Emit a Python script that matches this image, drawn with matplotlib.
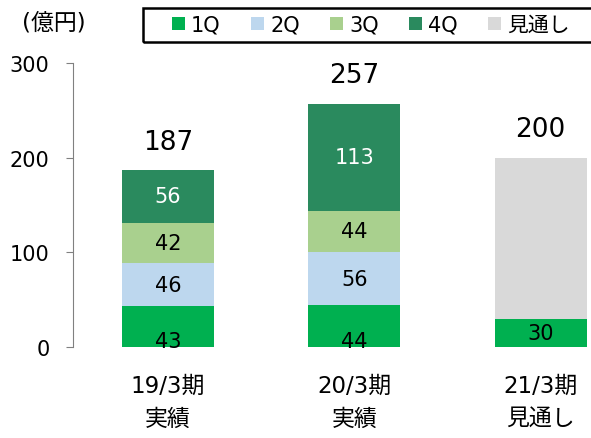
import numpy as np
import matplotlib
matplotlib.use("Agg")
import matplotlib.pyplot as plt
from matplotlib.patches import Patch, Rectangle

plt.rcParams['font.family'] = ['DejaVu Sans', 'Noto Sans CJK JP']

# data
periods = ['19/3期\n実績', '20/3期\n実績', '21/3期\n見通し']
q1 = [43, 44, 30]
q2 = [46, 56, 0]
q3 = [42, 44, 0]
q4 = [56, 113, 0]
forecast = [0, 0, 170]
totals = [187, 257, 200]
series_names = ['1Q', '2Q', '3Q', '4Q', '見通し']
colors = ['#00B050', '#BDD7EE', '#A9D08E', '#2A8A5E', '#D9D9D9']

fig = plt.figure(figsize=(5.91, 4.39), dpi=100)
ax = fig.add_axes([0.1235, 0.2073, 0.8765, 0.647])

x = np.arange(len(periods))
w = 0.495
bottom = np.zeros(len(periods))
stack = [q1, q2, q3, q4, forecast]
for vals, col in zip(stack, colors):
    vals = np.asarray(vals, dtype=float)
    ax.bar(x, vals, w, bottom=bottom, color=col, edgecolor='none')
    for i, v in enumerate(vals):
        if v == 0 or col == colors[4]:
            continue
        if col == colors[0]:
            # 1Q labels sit low in the bar, like the original
            yy = v / 2 if v < 35 else 6
        else:
            yy = bottom[i] + v / 2
        tc = 'white' if col == colors[3] else 'black'
        ax.text(x[i], yy, f'{int(v)}', ha='center', va='center',
                fontsize=15, color=tc)
    bottom += vals

for i, t in enumerate(totals):
    ax.text(x[i], t + 30, str(t), ha='center', va='center', fontsize=19)

ax.set_xlim(-0.51, 2.27)
ax.set_ylim(0, 300)
ax.set_yticks([0, 100, 200, 300])
ax.set_xticks(x)
ax.set_xticklabels(periods, fontsize=16.5, linespacing=1.6)
for s in ['top', 'right', 'bottom']:
    ax.spines[s].set_visible(False)
ax.spines['left'].set_color('#808080')
ax.tick_params(axis='y', labelsize=15, color='#808080', length=5, pad=12)
ax.tick_params(axis='x', length=0, pad=19)

fig.text(22 / 591, 1 - 23 / 439, '(億円)', fontsize=16.5, va='center', ha='left')

# legend box runs off the right edge
fig.patches.append(Rectangle((143 / 591, 1 - 43 / 439), 0.8, 34 / 439,
                             transform=fig.transFigure, facecolor='none',
                             edgecolor='black', linewidth=1.8, clip_on=False))
handles = [Patch(facecolor=c, edgecolor='none') for c in colors]
fig.legend(handles, series_names, loc='center left',
           bbox_to_anchor=(172 / 591, 1 - 26 / 439), ncol=5, fontsize=15,
           frameon=False, handlelength=0.62, handleheight=0.6,
           handletextpad=0.3, columnspacing=1.45,
           borderpad=0, borderaxespad=0)

plt.savefig('out.png', dpi=100)
